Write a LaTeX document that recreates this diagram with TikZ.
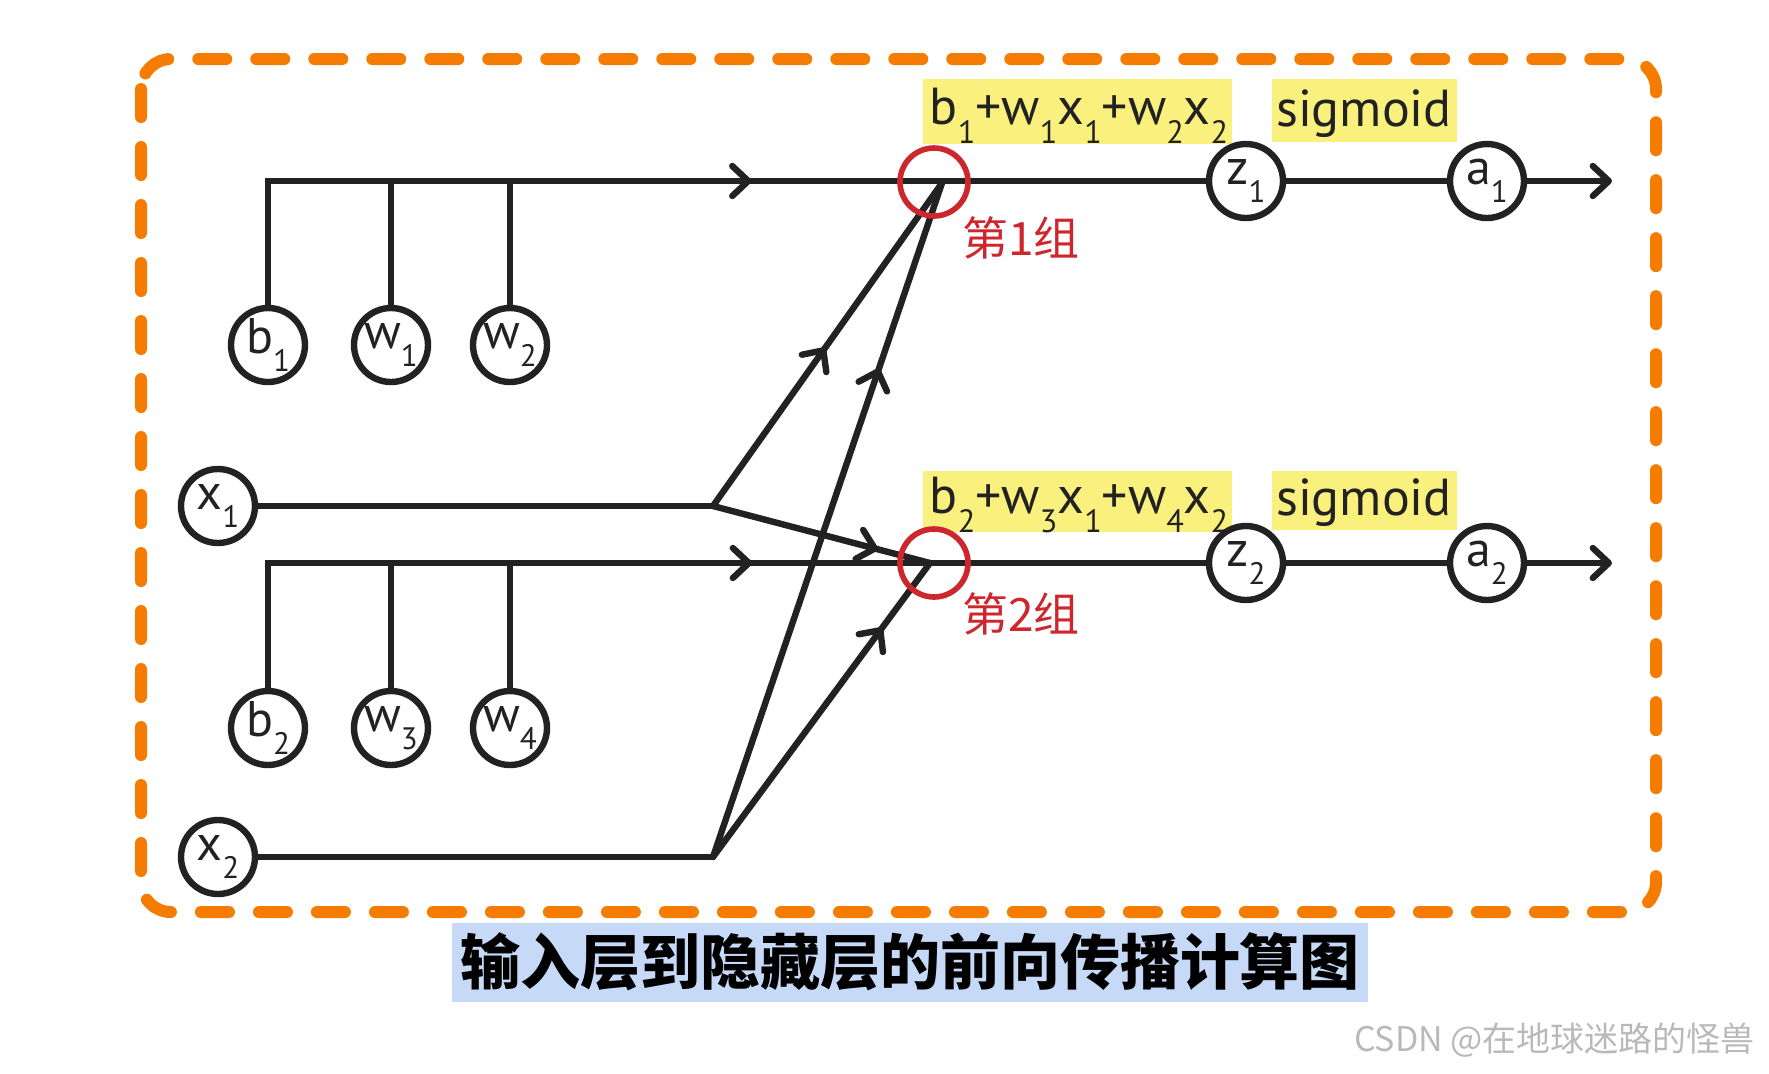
\documentclass[tikz,border=0pt]{standalone}
\usepackage{fontspec}
\usepackage{graphicx}
\setmainfont{PT Sans}
\newfontfamily\cjk{Noto Sans CJK SC}
\usetikzlibrary{arrows.meta,decorations.markings}
\definecolor{boxorange}{RGB}{245,124,0}
\definecolor{ink}{RGB}{34,34,34}
\definecolor{hlyellow}{RGB}{250,240,125}
\definecolor{sumred}{RGB}{205,38,45}
\definecolor{capblue}{RGB}{198,218,248}
\definecolor{wmgrey}{RGB}{185,185,185}
\newcommand\lsub[1]{\raisebox{-0.36em}{\scalebox{0.62}{#1}}}
\tikzset{
  barb/.tip={Straight Barb[length=8pt,width=15pt,line cap=round,line join=round]},
  wire/.style={color=ink, line width=3.2pt},
  circnode/.style={circle, draw=ink, line width=3.2pt, fill=white, minimum size=37pt, inner sep=0pt, font=\fontsize{25}{25}\selectfont, text=ink},
  sumcirc/.style={circle, draw=sumred, line width=2.8pt, minimum size=34pt, inner sep=0pt},
  ybox/.style={fill=hlyellow, inner sep=0pt},
  ytext/.style={inner sep=0pt, font=\fontsize{26}{26}\selectfont, text=ink},
  redlab/.style={text=sumred, font=\cjk\fontsize{23}{23}\selectfont},
  midarr/.style={postaction={decorate}, decoration={markings, mark=at position #1 with {\arrow{barb}}}}
}
\begin{document}
\begin{tikzpicture}[x=0.5pt,y=-0.5pt]
\useasboundingbox (0,0) rectangle (1769,1073);
% dashed frame
\draw[boxorange, line width=6pt, dash pattern=on 14pt off 15pt, line cap=round, rounded corners=15pt] (141,59) rectangle (1656,912);
% yellow labels
\node[ybox, minimum width=154.5pt, minimum height=32.5pt] (f1) at (1077,111) {};
\node[ytext] (f1t) at (1079,116) {b\lsub{1}+w\lsub{1}x\lsub{1}+w\lsub{2}x\lsub{2}};
\node[ybox, minimum width=92.5pt, minimum height=31.5pt] (g1) at (1364,110) {};
\node[ytext] (g1t) at (1364,114) {sigmoid};
\node[ybox, minimum width=154.5pt, minimum height=30.5pt] (f2) at (1077,501) {};
\node[ytext] (f2t) at (1079,505) {b\lsub{2}+w\lsub{3}x\lsub{1}+w\lsub{4}x\lsub{2}};
\node[ybox, minimum width=92.5pt, minimum height=29.5pt] (g2) at (1364,500) {};
\node[ytext] (g2t) at (1364,503) {sigmoid};
% circle nodes
\node[circnode] (b1) at (268,345) {b\lsub{1}};
\node[circnode] (w1) at (391,345) {w\lsub{1}};
\node[circnode] (w2) at (510,345) {w\lsub{2}};
\node[circnode] (b2) at (268,728) {b\lsub{2}};
\node[circnode] (w3) at (391,728) {w\lsub{3}};
\node[circnode] (w4) at (510,728) {w\lsub{4}};
\node[circnode] (x1) at (218,506) {x\lsub{1}};
\node[circnode] (x2) at (218,857) {x\lsub{2}};
\node[circnode] (z1) at (1246,181) {z\lsub{1}};
\node[circnode] (a1) at (1487,181) {a\lsub{1}};
\node[circnode] (z2) at (1246,563) {z\lsub{2}};
\node[circnode] (a2) at (1487,563) {a\lsub{2}};
\coordinate (j1) at (713,506);
\coordinate (j2) at (713,857);
\coordinate (c1) at (942,183);
\coordinate (c2) at (930,563);
\coordinate (e1) at (1612,181);
\coordinate (e2) at (1612,563);
% wires group 1
\draw[wire, midarr=0.572] (b1) |- (z1);
\draw[wire] (w1) -- (w1 |- z1);
\draw[wire] (w2) -- (w2 |- z1);
\draw[wire] (z1) -- (a1);
\draw[wire, -barb] (a1) -- (e1);
% wires group 2
\draw[wire, midarr=0.573] (b2) |- (z2);
\draw[wire] (w3) -- (w3 |- z2);
\draw[wire] (w4) -- (w4 |- z2);
\draw[wire] (z2) -- (a2);
\draw[wire, -barb] (a2) -- (e2);
% inputs
\draw[wire, line cap=round] (x1) -- (j1);
\draw[wire, line cap=round] (x2) -- (j2);
\draw[wire, line cap=round, midarr=0.49] (j1) -- (c1);
\draw[wire, line cap=round, midarr=0.76] (j1) -- (c2);
\draw[wire, line cap=round, midarr=0.725] (j2) -- (c1);
\draw[wire, line cap=round, midarr=0.78] (j2) -- (c2);
% summation circles
\node[sumcirc] (s1) at (934,182) {};
\node[sumcirc] (s2) at (934,563) {};
\node[redlab] (r1) at (1021,238) {第1组};
\node[redlab] (r2) at (1021,614) {第2组};
% caption
\node[fill=capblue, minimum width=458pt, minimum height=39.5pt, inner sep=0pt, text=black, font=\cjk\bfseries\fontsize{30}{30}\selectfont] (cap) at (910,962) {输入层到隐藏层的前向传播计算图};
\node[text=wmgrey, font=\cjk\fontsize{17}{17}\selectfont, anchor=east] (wm) at (1762,1040) {CSDN @在地球迷路的怪兽};
\end{tikzpicture}
\end{document}
